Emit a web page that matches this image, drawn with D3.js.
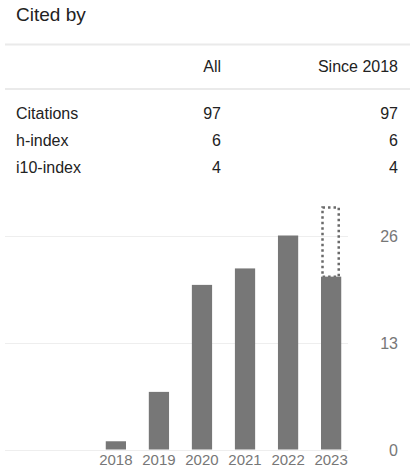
<!DOCTYPE html>
<html>
<head>
<meta charset="utf-8">
<script src="https://cdn.jsdelivr.net/npm/d3@7"></script>
<style>
  body { margin: 0; background: #fff; }
  svg { display: block; font-family: Arial, "Liberation Sans", sans-serif; }
</style>
</head>
<body>
<svg id="chart" width="410" height="472"></svg>
<script>
// table data
const columns = ["All", "Since 2018"];
const rowNames = ["Citations", "h-index", "i10-index"];
const allValues = [97, 6, 4];
const sinceValues = [97, 6, 4];

// bar data
const years = ["2018", "2019", "2020", "2021", "2022", "2023"];
const citations = [1, 7, 20, 22, 26, 21];
const projected2023 = 29.4;
const yTicks = [0, 13, 26];

const svg = d3.select("#chart");

// title
svg.append("text")
    .attr("x", 16).attr("y", 21)
    .attr("font-size", 19)
    .attr("fill", "#222")
    .text("Cited by");

// divider lines
[44.5, 89].forEach(function (y) {
    svg.append("line")
        .attr("x1", 5).attr("x2", 410)
        .attr("y1", y).attr("y2", y)
        .attr("stroke", "#eaeaea")
        .attr("stroke-width", 2);
});

// header
const colX = [221, 398];
columns.forEach(function (c, i) {
    svg.append("text")
        .attr("x", colX[i]).attr("y", 72)
        .attr("text-anchor", "end")
        .attr("font-size", 16)
        .attr("fill", "#222")
        .text(c);
});

// rows
const rowY = d3.scalePoint().domain(rowNames).range([119, 173]);
rowNames.forEach(function (r, i) {
    svg.append("text").attr("x", 16).attr("y", rowY(r))
        .attr("font-size", 16).attr("fill", "#222").text(r);
    svg.append("text").attr("x", colX[0]).attr("y", rowY(r))
        .attr("text-anchor", "end").attr("font-size", 16).attr("fill", "#222").text(allValues[i]);
    svg.append("text").attr("x", colX[1]).attr("y", rowY(r))
        .attr("text-anchor", "end").attr("font-size", 16).attr("fill", "#222").text(sinceValues[i]);
});

// chart
const x = d3.scaleBand()
    .domain(years)
    .range([95, 352])
    .paddingInner(0.53)
    .paddingOuter(0.25);

const y = d3.scaleLinear()
    .domain([0, 26])
    .range([449.5, 235.5]);

// gridlines
svg.append("g").selectAll("line")
    .data(yTicks)
    .enter().append("line")
    .attr("x1", 5).attr("x2", 348)
    .attr("y1", function (d) { return Math.round(y(d)) + 0.5; })
    .attr("y2", function (d) { return Math.round(y(d)) + 0.5; })
    .attr("stroke", "#eee")
    .attr("stroke-width", 1);

// projected box
svg.append("rect")
    .attr("x", x("2023") + 1.5)
    .attr("width", x.bandwidth() - 4)
    .attr("y", y(projected2023))
    .attr("height", y(citations[5]) - y(projected2023))
    .attr("fill", "none")
    .attr("stroke", "#6a6a6a")
    .attr("stroke-width", 2.5)
    .attr("stroke-dasharray", "2.5,3");

// bars
svg.append("g").selectAll("rect")
    .data(citations)
    .enter().append("rect")
    .attr("x", function (d, i) { return x(years[i]); })
    .attr("width", x.bandwidth())
    .attr("y", function (d) { return y(d); })
    .attr("height", function (d) { return y(0) - y(d); })
    .attr("fill", "#777");

// year labels
svg.append("g").selectAll("text")
    .data(years)
    .enter().append("text")
    .attr("x", function (d) { return x(d) + x.bandwidth() / 2; })
    .attr("y", 465)
    .attr("text-anchor", "middle")
    .attr("font-size", 15)
    .attr("fill", "#777")
    .text(function (d) { return d; });

// y labels
svg.append("g").selectAll("text")
    .data(yTicks)
    .enter().append("text")
    .attr("x", 398)
    .attr("y", function (d) { return y(d) + 6.5; })
    .attr("text-anchor", "end")
    .attr("font-size", 16)
    .attr("fill", "#777")
    .text(function (d) { return d; });
</script>
</body>
</html>
